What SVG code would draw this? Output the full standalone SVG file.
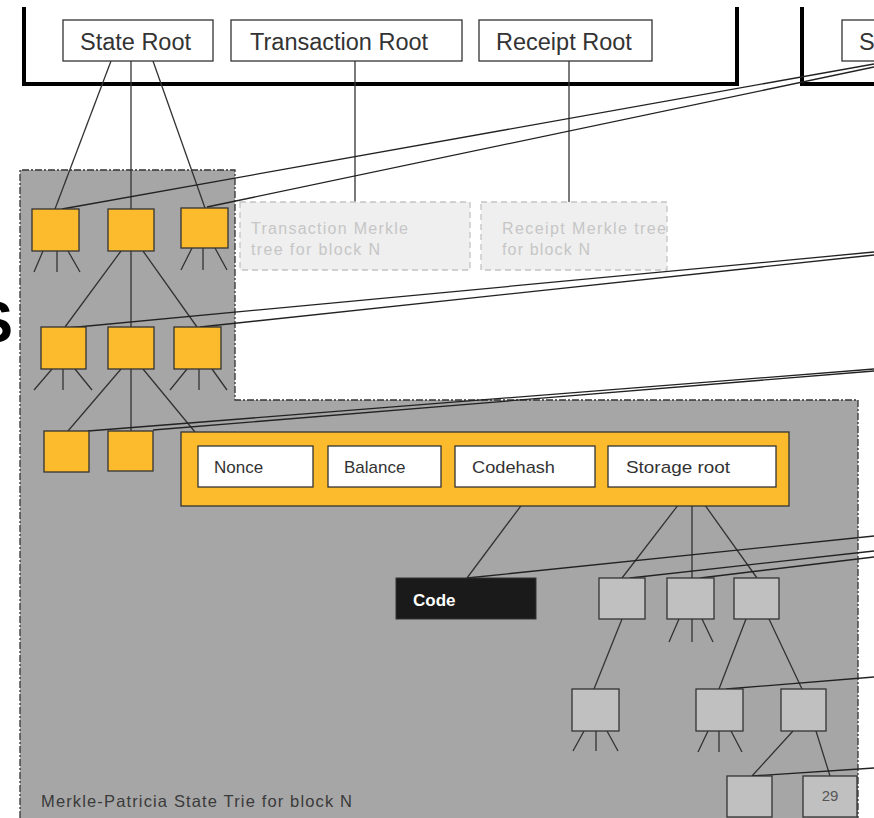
<svg xmlns="http://www.w3.org/2000/svg" width="874" height="818" viewBox="0 0 874 818">
<style>
.root{fill:#fff;stroke:#333;stroke-width:1.3}
.rt{font-family:"Liberation Sans",Arial,sans-serif;font-size:23.5px;fill:#333}
.org{fill:#fcbb2d;stroke:#333;stroke-width:1.3}
.gry{fill:#c0c0c0;stroke:#333;stroke-width:1.3}
.fld{fill:#fff;stroke:#333;stroke-width:1.3}
.ft{font-family:"Liberation Sans",Arial,sans-serif;font-size:17px;fill:#333}
.mk{fill:#efefef;stroke:#c4c4c4;stroke-width:1.3;stroke-dasharray:6 4}
.mt{font-family:"Liberation Sans",Arial,sans-serif;font-size:16px;fill:#c6c6c6}
.ln{stroke:#333;stroke-width:1.3;fill:none}
.xl{stroke:#222;stroke-width:1.3;fill:none}
.blk{fill:none;stroke:#000;stroke-width:4}
</style>
<rect width="874" height="818" fill="#fff"/>
<g id="background">
<path d="M20,170 H235 V400 H858 V818 H20 Z" fill="#a6a6a6"/>
<path d="M20,818 V170 H235 V400 H858 V818" fill="none" stroke="#333" stroke-width="1.3" stroke-dasharray="7 2 2 2"/>
<text x="13" y="342" text-anchor="end" font-family="Liberation Sans,Arial,sans-serif" font-size="58" font-weight="bold" fill="#000">S</text>
</g>
<g id="block-n">
<path class="blk" d="M24,7 V84 H737 V7"/>
</g>
<g id="block-n1">
<path class="blk" d="M802,7 V84 H880"/>
</g>
<g id="connectors">
<line class="ln" x1="111" y1="61" x2="55" y2="209"/>
<line class="ln" x1="131" y1="61" x2="131" y2="209"/>
<line class="ln" x1="153" y1="61" x2="205" y2="208"/>
<line class="ln" x1="355" y1="61" x2="355" y2="202"/>
<line class="ln" x1="569" y1="61" x2="569" y2="202"/>
<path class="ln" d="M43,251 L34,272 M57,251 V272 M68,251 L80,272"/>
<path class="ln" d="M192,248 L181,270 M203,248 V270 M215,248 L227,270"/>
<path class="ln" d="M121,251 L65,327 M131,251 V327 M143,251 L197,327"/>
<path class="ln" d="M52,369 L34,390 M63,369 V390 M75,369 L92,390"/>
<path class="ln" d="M187,369 L170,390 M199,369 V390 M212,369 L227,390"/>
<path class="ln" d="M121,369 L68,431 M131,369 V431 M143,369 L195,432"/>
<line class="ln" x1="535" y1="487" x2="467" y2="578"/>
<path class="ln" d="M692,487 L622,578 M692,487 V578 M692,487 L757,578"/>
<path class="ln" d="M679,619 L669,642 M692,619 V642 M702,619 L713,642"/>
<line class="ln" x1="622" y1="619" x2="594" y2="689"/>
<path class="ln" d="M746,619 L719,689 M769,619 L802,689"/>
<path class="ln" d="M584,731 L573,751 M596,731 V751 M607,731 L618,751"/>
<path class="ln" d="M708,731 L698,752 M719,731 V752 M731,731 L742,752"/>
<path class="ln" d="M793,731 L752,776 M816,731 L830,776"/>
<line class="xl" x1="62" y1="209" x2="874" y2="64"/>
<line class="xl" x1="207" y1="207" x2="874" y2="67"/>
<line class="xl" x1="67" y1="328" x2="874" y2="252"/>
<line class="xl" x1="200" y1="327" x2="874" y2="255"/>
<line class="xl" x1="88" y1="431" x2="874" y2="369"/>
<line class="xl" x1="153" y1="430" x2="874" y2="371"/>
<line class="xl" x1="467" y1="578" x2="874" y2="536"/>
<line class="xl" x1="630" y1="578" x2="874" y2="551"/>
<line class="xl" x1="700" y1="578" x2="874" y2="557"/>
<line class="xl" x1="726" y1="689" x2="874" y2="677"/>
<line class="xl" x1="752" y1="776" x2="874" y2="768"/>
</g>
<g id="state-root"><rect class="root" x="63" y="20" width="150" height="41"/><text class="rt" x="80" y="50">State Root</text></g>
<g id="transaction-root"><rect class="root" x="231" y="20" width="231" height="41"/><text class="rt" x="250" y="50">Transaction Root</text></g>
<g id="receipt-root"><rect class="root" x="479" y="20" width="173" height="41"/><text class="rt" x="496" y="50">Receipt Root</text></g>
<g id="state-root-next"><rect class="root" x="842" y="20" width="60" height="41"/><text class="rt" x="859" y="50">State Root</text></g>
<g id="tx-merkle"><rect class="mk" x="240" y="202" width="230" height="68"/><text class="mt" x="251" y="234" textLength="157" lengthAdjust="spacing">Transaction Merkle</text><text class="mt" x="251" y="255" textLength="129" lengthAdjust="spacing">tree for block N</text></g>
<g id="rc-merkle"><rect class="mk" x="481" y="202" width="186" height="68"/><text class="mt" x="502" y="234" textLength="164" lengthAdjust="spacing">Receipt  Merkle  tree</text><text class="mt" x="502" y="255" textLength="88" lengthAdjust="spacing">for block N</text></g>
<g id="n1a"><rect class="org" x="32" y="209" width="47" height="42"/></g>
<g id="n1b"><rect class="org" x="108" y="209" width="46" height="42"/></g>
<g id="n1c"><rect class="org" x="181" y="208" width="47" height="40"/></g>
<g id="n2a"><rect class="org" x="41" y="327" width="45" height="42"/></g>
<g id="n2b"><rect class="org" x="108" y="327" width="46" height="42"/></g>
<g id="n2c"><rect class="org" x="174" y="327" width="47" height="42"/></g>
<g id="n3a"><rect class="org" x="44" y="431" width="45" height="41"/></g>
<g id="n3b"><rect class="org" x="108" y="431" width="45" height="40"/></g>
<g id="account">
<rect class="org" x="181" y="432" width="608" height="74"/>
<rect class="fld" x="198" y="446" width="115" height="41"/><text class="ft" x="214" y="473">Nonce</text>
<rect class="fld" x="328" y="446" width="113" height="41"/><text class="ft" x="344" y="473">Balance</text>
<rect class="fld" x="455" y="446" width="140" height="41"/><text class="ft" x="472" y="473" textLength="83" lengthAdjust="spacingAndGlyphs">Codehash</text>
<rect class="fld" x="608" y="446" width="168" height="41"/><text class="ft" x="626" y="473" textLength="104" lengthAdjust="spacingAndGlyphs">Storage root</text>
</g>
<g id="code"><rect x="396" y="578" width="140" height="41" fill="#1a1a1a" stroke="#333" stroke-width="1"/><text x="413" y="606" font-family="Liberation Sans,Arial,sans-serif" font-size="17" font-weight="bold" fill="#fff">Code</text></g>
<g id="s1a"><rect class="gry" x="599" y="578" width="46" height="41"/></g>
<g id="s1b"><rect class="gry" x="667" y="578" width="47" height="41"/></g>
<g id="s1c"><rect class="gry" x="734" y="578" width="45" height="41"/></g>
<g id="s2a"><rect class="gry" x="572" y="689" width="47" height="42"/></g>
<g id="s2b"><rect class="gry" x="696" y="689" width="47" height="42"/></g>
<g id="s2c"><rect class="gry" x="781" y="689" width="45" height="42"/></g>
<g id="s3a"><rect class="gry" x="727" y="776" width="45" height="41"/></g>
<g id="s3b"><rect class="gry" x="803" y="776" width="54" height="41"/><text x="830" y="801" text-anchor="middle" font-family="Liberation Sans,Arial,sans-serif" font-size="15" fill="#555">29</text></g>
<g id="caption"><text x="41" y="807" font-family="Liberation Sans,Arial,sans-serif" font-size="16.5" fill="#3a3a3a" textLength="311" lengthAdjust="spacing">Merkle-Patricia  State  Trie  for block N</text></g>
</svg>
